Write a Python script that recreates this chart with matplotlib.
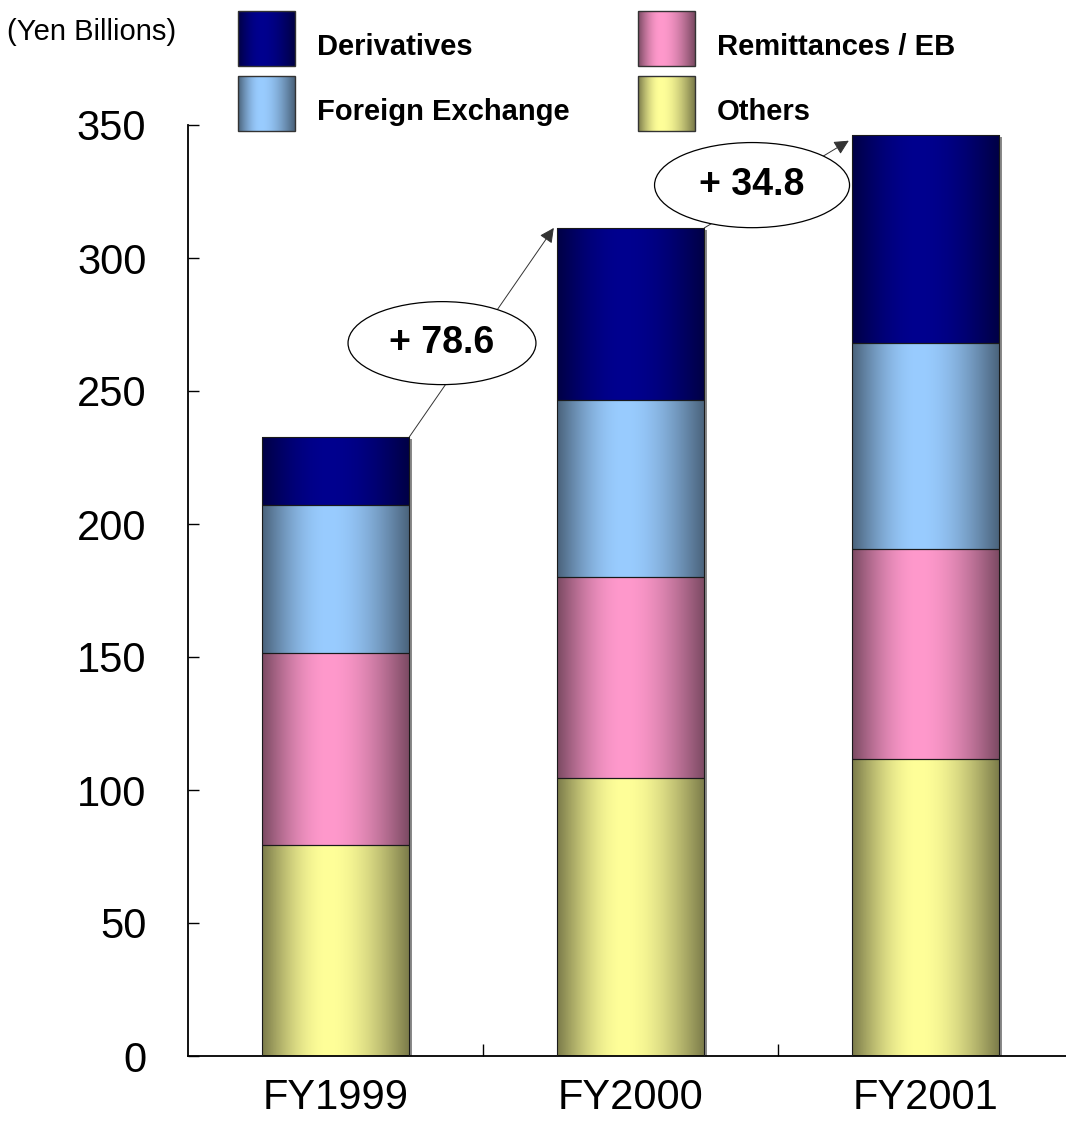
import numpy as np
import matplotlib.pyplot as plt
from matplotlib.patches import Ellipse, Rectangle

plt.rcParams['font.family'] = ['Liberation Sans', 'DejaVu Sans']

# values (Yen billions)
years = ['FY1999', 'FY2000', 'FY2001']
others = [79.3, 104.5, 111.7]
remittances = [72.2, 75.6, 78.9]
foreign_exchange = [55.6, 66.5, 77.4]
derivatives = [25.6, 64.7, 78.1]
deltas = [78.6, 34.8]

names = ['Others', 'Remittances / EB', 'Foreign Exchange', 'Derivatives']
series = [others, remittances, foreign_exchange, derivatives]
colors = {'Others': (1.0, 1.0, 0.6),
          'Remittances / EB': (1.0, 0.6, 0.8),
          'Foreign Exchange': (0.6, 0.8, 1.0),
          'Derivatives': (0.0, 0.0, 0.56)}


def shade(rgb, n=200, peak=0.45, lo=0.48):
    t = np.linspace(0, 1, n)
    s = np.where(t < peak, t / peak, (1 - t) / (1 - peak))
    f = lo + (1 - lo) * np.sin(np.pi / 2 * s)
    return np.array(rgb)[None, None, :] * f[None, :, None]


fig = plt.figure(figsize=(10.66, 11.3), dpi=100)
W, H = 1066, 1130
ax = fig.add_axes([188 / W, 1 - 1056 / H, (1073 - 188) / W, (1056 - 125) / H])

x = np.arange(len(years))
width = 0.5
totals = np.sum(series, axis=0)

# drop shadow on the right of each stack
ax.bar(x + 0.009, totals, width, bottom=-0.6, color='#8a8a8a', zorder=1)

bottom = np.zeros(len(years))
for name, vals in zip(names, series):
    bars = ax.bar(x, vals, width, bottom=bottom, facecolor='none',
                  edgecolor='#1a1a1a', linewidth=0.8, zorder=3)
    for b in bars:
        x0, y0 = b.get_x(), b.get_y()
        im = ax.imshow(shade(colors[name]), extent=(x0, x0 + b.get_width(), y0, y0 + b.get_height()),
                       aspect='auto', interpolation='bilinear', zorder=2)
        im.set_clip_path(b)
    bottom += np.array(vals)

# growth arrows with oval labels
ell_pos = [(0.361, 268.0, 0.637, 31.2), (1.412, 327.4, 0.661, 32.0)]
for i, d in enumerate(deltas):
    ax.annotate('', xy=(i + 1 - width / 2 - 0.01, totals[i + 1] - (2 if i == 1 else 0)),
                xytext=(i + width / 2, totals[i]),
                arrowprops=dict(arrowstyle='-|>', color='#333333', lw=0.7,
                                mutation_scale=22, shrinkA=0, shrinkB=0,
                                facecolor='black'), zorder=4)
    cx, cy, ew, eh = ell_pos[i]
    ax.add_patch(Ellipse((cx, cy), ew, eh, facecolor='white', edgecolor='black',
                         linewidth=0.9, zorder=5))
    ax.text(cx, cy, '+ %.1f' % d, ha='center', va='center', fontsize=27,
            fontweight='bold', zorder=6)

ax.set_xlim(-0.5, 2.5)
ax.set_ylim(0, 350)
ax.set_yticks(np.arange(0, 351, 50))
ax.set_xticks(x)
ax.set_xticklabels(years)
ax.set_xticks([0.5, 1.5], minor=True)
ax.tick_params(axis='x', which='major', length=0, pad=16, labelsize=30)
ax.tick_params(axis='x', which='minor', direction='in', length=9, width=1.0)
ax.tick_params(axis='y', direction='in', length=8, width=1.0, pad=30, labelsize=30)
for s in ['top', 'right']:
    ax.spines[s].set_visible(False)
for s in ['left', 'bottom']:
    ax.spines[s].set_linewidth(1.3)
ax.set_facecolor('none')

# legend / unit label drawn in pixel space
lax = fig.add_axes([0, 0, 1, 1])
lax.set_xlim(0, W)
lax.set_ylim(H, 0)
lax.axis('off')
lax.text(7, 40, '(Yen Billions)', fontsize=21, ha='left', va='baseline')
legend_pos = {'Derivatives': (238, 11), 'Foreign Exchange': (238, 76),
              'Remittances / EB': (638, 11), 'Others': (638, 76)}
for name, (lx, ly) in legend_pos.items():
    lax.imshow(shade(colors[name], peak=0.4), extent=(lx, lx + 57, ly + 55, ly),
               aspect='auto', interpolation='bilinear')
    lax.add_patch(Rectangle((lx, ly), 57, 55, fill=False, edgecolor='#333333', linewidth=1.0))
    lax.text(lx + 79, ly + 44, name, fontsize=21, fontweight='bold', ha='left', va='baseline')
lax.set_xlim(0, W)
lax.set_ylim(H, 0)

fig.savefig('out.png', dpi=100)
